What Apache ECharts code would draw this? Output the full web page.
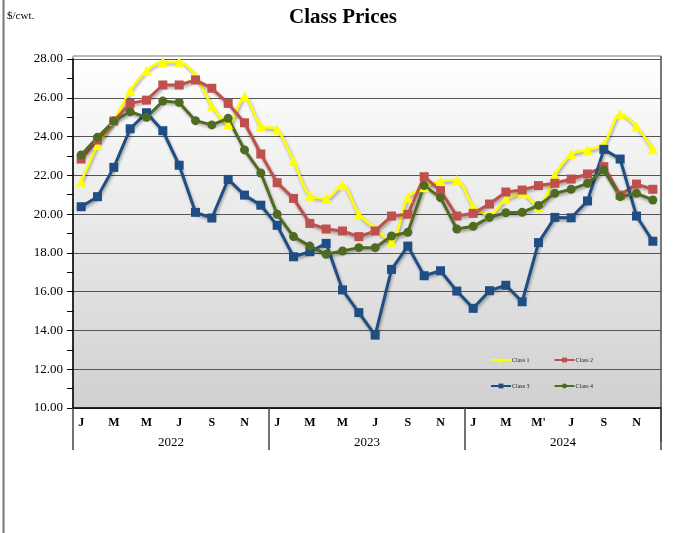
<!DOCTYPE html>
<html><head><meta charset="utf-8">
<script src="https://cdn.jsdelivr.net/npm/echarts@6/dist/echarts.min.js"></script>
<style>html,body{margin:0;padding:0;background:#fff;}#c{width:675px;height:533px;}</style>
</head><body><div id="c"></div>
<script>
const months = ['J','F','M','A','M','J','J','A','S','O','N','D','J','F','M','A','M','J','J','A','S','O','N','D','J','F','M','A','M','J','J','A','S','O','N','D'];
const monthLabels = ['J','','M','','M','','J','','S','','N','','J','','M','','M','','J','','S','','N','','J','','M','',"M'",'','J','','S','','N',''];
const years = ['2022','2023','2024'];
const yTicks = [10,12,14,16,18,20,22,24,26,28];
const class1 = [21.67,23.55,24.80,26.36,27.40,27.84,27.84,27.14,25.59,24.65,26.06,24.55,24.37,22.74,20.95,20.81,21.50,19.99,19.27,18.58,20.86,21.38,21.72,21.76,20.42,19.95,20.78,21.07,20.35,22.02,23.10,23.31,23.62,25.16,24.51,23.34];
const class2 = [22.84,23.82,24.80,25.71,25.88,26.66,26.66,26.92,26.49,25.71,24.71,23.10,21.62,20.81,19.52,19.23,19.13,18.84,19.13,19.90,19.99,21.93,21.21,19.90,20.04,20.52,21.14,21.24,21.47,21.59,21.81,22.07,22.45,20.98,21.55,21.28];
const class3 = [20.38,20.90,22.41,24.40,25.23,24.30,22.52,20.09,19.80,21.79,20.98,20.46,19.42,17.80,18.06,18.49,16.09,14.92,13.76,17.15,18.35,16.82,17.08,16.03,15.14,16.05,16.33,15.48,18.53,19.83,19.81,20.68,23.34,22.84,19.90,18.60];
const class4 = [23.05,23.96,24.80,25.28,24.99,25.83,25.76,24.82,24.60,24.94,23.31,22.12,19.99,18.84,18.35,17.93,18.10,18.27,18.27,18.87,19.06,21.47,20.85,19.23,19.37,19.83,20.07,20.09,20.45,21.07,21.28,21.59,22.27,20.90,21.07,20.73];

const serif = '"Liberation Serif","Times New Roman",serif';
const chart = echarts.init(document.getElementById('c'));
const shadow = {shadowColor:'rgba(0,0,0,0.35)', shadowBlur:3, shadowOffsetX:1, shadowOffsetY:2};
function ser(name, data, color, symbol, size, extra){
  return Object.assign({
    name, type:'line', data, symbol, symbolSize:size, showSymbol:true,
    lineStyle:Object.assign({color, width:3}, shadow),
    itemStyle:{color, borderWidth:0},
    emphasis:{disabled:true}, z:5
  }, extra||{});
}
chart.setOption({
  animation:false,
  backgroundColor:'#fff',
  title:[
    {text:'Class Prices', left:343, top:7, padding:0, textAlign:'center',
     textStyle:{fontFamily:serif, fontSize:21, fontWeight:'bold', color:'#000'}},
    {text:'$/cwt.', left:7, top:11, padding:0, textStyle:{fontFamily:serif, fontSize:11, fontWeight:'normal', color:'#000'}}
  ],
  graphic:[
    {type:'rect', z:-10, shape:{x:73, y:56, width:588, height:352},
     style:{fill:new echarts.graphic.LinearGradient(0,0,0,1,[{offset:0,color:'#ffffff'},{offset:1,color:'#d0d0d0'}]),
            stroke:'#777', lineWidth:1}},
    {type:'line', z:-5, shape:{x1:3.5, y1:0, x2:3.5, y2:533}, style:{stroke:'#777', lineWidth:2}},
    {type:'line', z:-5, shape:{x1:661, y1:56, x2:661, y2:442}, style:{stroke:'#777', lineWidth:2}}
  ],
  legend:[
    {data:['Class 1','Class 2'], left:485, top:352, itemWidth:20, itemHeight:6, itemGap:24,
     textStyle:{fontFamily:serif, fontSize:6, color:'#222', padding:[0,0,0,-4]}},
    {data:['Class 3','Class 4'], left:485, top:378, itemWidth:20, itemHeight:6, itemGap:24,
     textStyle:{fontFamily:serif, fontSize:6, color:'#222', padding:[0,0,0,-4]}}
  ],
  grid:{left:73, right:14, top:59, bottom:125, containLabel:false},
  xAxis:[
    {type:'category', data:months, boundaryGap:true,
     axisLine:{show:true, lineStyle:{color:'#000', width:1.5}},
     axisTick:{show:false},
     axisLabel:{interval:0, margin:9, fontFamily:serif, fontSize:12, fontWeight:'bold', color:'#000',
       formatter:(v,i)=>monthLabels[i]}},
    {type:'category', data:years, boundaryGap:true, position:'bottom',
     axisLine:{show:false},
     axisTick:{show:true, length:42, lineStyle:{color:'#444', width:1.5}},
     axisLabel:{margin:28, fontFamily:serif, fontSize:13, color:'#000'}}
  ],
  yAxis:{type:'value', min:10, max:28, interval:2,
    axisLine:{show:true, lineStyle:{color:'#000', width:1.5}},
    axisTick:{show:true, length:6, lineStyle:{color:'#000'}},
    minorTick:{show:true, splitNumber:2, length:6, lineStyle:{color:'#000'}},
    splitLine:{show:true, lineStyle:{color:'#555', width:1.2}},
    axisLabel:{margin:10, fontFamily:serif, fontSize:13, color:'#000',
      formatter:v=>yTicks.includes(v)?v.toFixed(2):''}},
  series:[
    ser('Class 1', class1, '#FFFF00', 'triangle', 10, {smooth:0.3, lineStyle:Object.assign({color:'#FFFF00', width:2.5}, shadow)}),
    ser('Class 2', class2, '#C0504D', 'rect', 9),
    ser('Class 3', class3, '#1F4E85', 'rect', 9),
    ser('Class 4', class4, '#4F6B22', 'circle', 9)
  ]
});
</script></body></html>
